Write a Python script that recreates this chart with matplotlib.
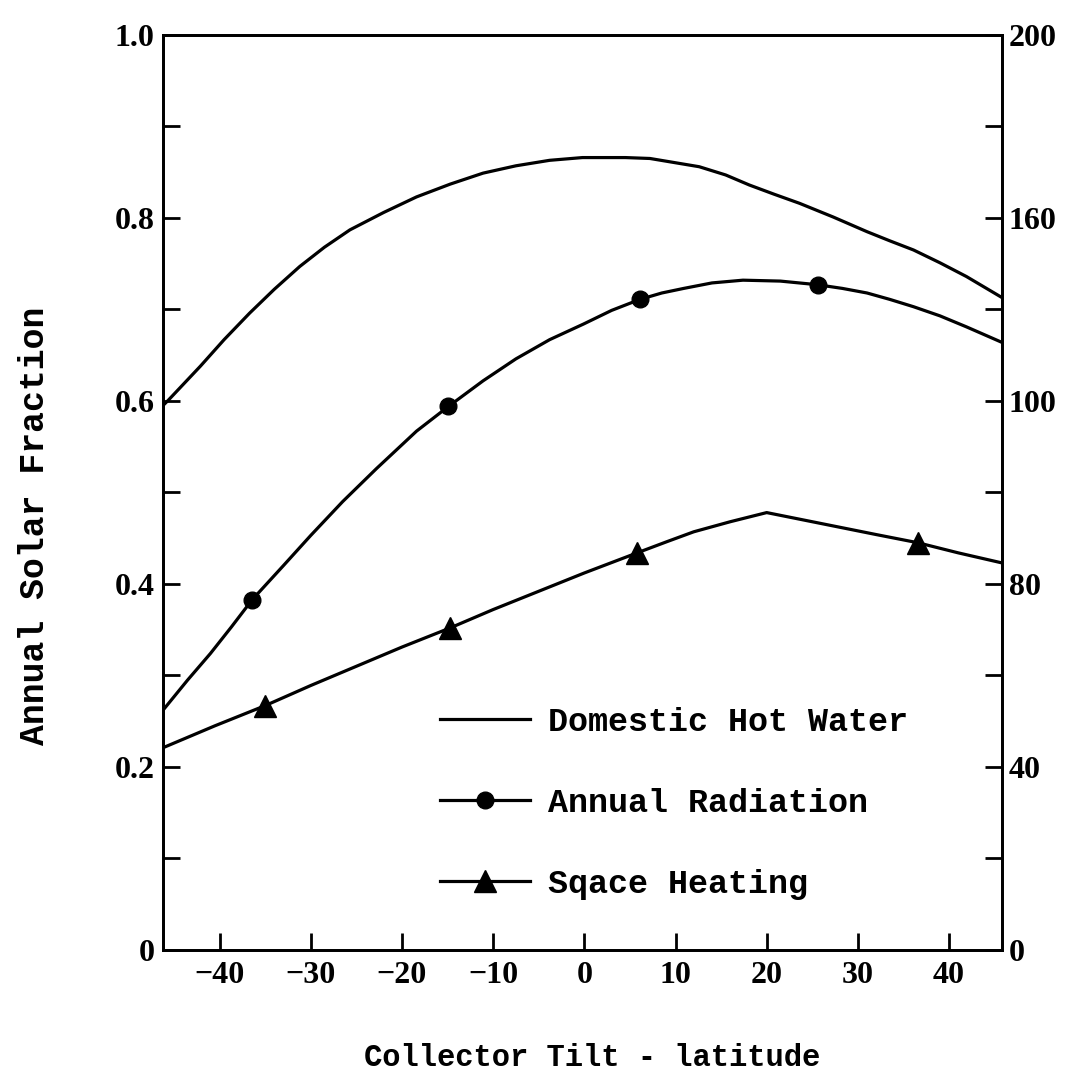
import matplotlib
matplotlib.use("Agg")
import matplotlib.pyplot as plt
from matplotlib.lines import Line2D

# -----------------------------
# DATA
# -----------------------------
dhw_x = [-46.2, -45.6, -42.1, -39.5, -36.7, -34.0, -31.2, -28.5, -25.7, -22.0, -18.4, -14.7, -11.1, -7.5,
         -3.8, -0.2, 1.7, 4.5, 7.2, 9.0, 12.6, 15.5, 18.1, 20.8, 23.6, 27.3, 31.0, 33.5, 36.1, 39.0, 41.9, 45.8]
dhw_y = [0.595, 0.601, 0.638, 0.667, 0.696, 0.722, 0.747, 0.768, 0.787, 0.806, 0.823, 0.837, 0.849, 0.857,
         0.863, 0.866, 0.866, 0.866, 0.865, 0.862, 0.856, 0.847, 0.836, 0.826, 0.816, 0.801, 0.785, 0.775, 0.765, 0.751, 0.736, 0.713]

rad_x = [-46.2, -43.5, -41.0, -38.7, -36.4, -33.0, -30.0, -26.5, -22.8, -18.4, -14.9, -11.1, -7.5, -3.8,
         -0.1, 3.0, 6.1, 8.5, 10.9, 14.0, 17.4, 21.5, 25.6, 28.3, 31.0, 33.5, 36.1, 39.0, 41.9, 45.8]
rad_y = [0.262, 0.295, 0.324, 0.353, 0.383, 0.420, 0.453, 0.490, 0.526, 0.567, 0.594, 0.622, 0.646, 0.667,
         0.684, 0.699, 0.711, 0.718, 0.723, 0.729, 0.732, 0.731, 0.727, 0.723, 0.718, 0.711, 0.703, 0.693, 0.681, 0.664]
rad_mark_x = [-36.4, -14.9, 6.1, 25.6]
rad_mark_y = [0.383, 0.594, 0.711, 0.727]

heat_x = [-46.2, -40.5, -35.0, -30.0, -25.0, -20.0, -14.7, -10.0, -5.0, 0.0, 5.8, 9.0, 12.0, 16.0, 20.0, 24.0, 28.0, 32.0, 36.6, 41.0, 45.8]
heat_y = [0.221, 0.245, 0.267, 0.289, 0.310, 0.331, 0.352, 0.372, 0.392, 0.412, 0.434, 0.446, 0.457, 0.468, 0.478, 0.470, 0.462, 0.454, 0.445, 0.434, 0.423]
heat_mark_x = [-35.0, -14.7, 5.8, 36.6]
heat_mark_y = [0.267, 0.352, 0.434, 0.445]

x_ticks = [-40, -30, -20, -10, 0, 10, 20, 30, 40]
left_ticks = [0, 0.2, 0.4, 0.6, 0.8, 1.0]
left_labels = ["0", "0.2", "0.4", "0.6", "0.8", "1.0"]
right_ticks = [0, 40, 80, 120, 160, 200]
right_labels = ["0", "40", "80", "100", "160", "200"]

labels = ["Domestic Hot Water", "Annual Radiation", "Sqace Heating"]

MONO = "Liberation Mono"
SERIF = "Liberation Serif"

# -----------------------------
# PLOT
# -----------------------------
fig = plt.figure(figsize=(10.91, 10.79), dpi=100)
ax = fig.add_axes([0.1494, 0.1196, 0.7690, 0.8480])
lw = 2.3

ax.plot(dhw_x, dhw_y, color="black", linewidth=lw)
ax.plot(rad_x, rad_y, color="black", linewidth=lw)
ax.plot(rad_mark_x, rad_mark_y, "o", color="black", markersize=12)
ax.plot(heat_x, heat_y, color="black", linewidth=lw)
ax.plot(heat_mark_x, heat_mark_y, "^", color="black", markersize=16)

ax.set_xlim(-46.2, 45.8)
ax.set_ylim(0, 1.0)

for s in ax.spines.values():
    s.set_linewidth(2.0)

tick_font = dict(fontfamily=SERIF, fontweight="bold", fontsize=23)
ax.set_xticks(x_ticks)
ax.set_xticklabels([str(t).replace("-", "\u2212") for t in x_ticks], **tick_font)
ax.set_yticks(left_ticks)
ax.set_yticklabels(left_labels, **tick_font)
ax.set_yticks([0.1, 0.3, 0.5, 0.7, 0.9], minor=True)
ax.tick_params(axis="both", which="major", direction="in", length=12, width=2)
ax.tick_params(axis="x", pad=8)
ax.tick_params(axis="y", pad=6)
ax.tick_params(axis="y", which="minor", direction="in", length=12, width=2)

ax2 = ax.twinx()
ax2.set_ylim(0, 200)
ax2.set_yticks(right_ticks)
ax2.set_yticklabels(right_labels, **tick_font)
ax2.set_yticks([20, 60, 100, 140, 180], minor=True)
ax2.tick_params(axis="y", which="both", direction="in", length=12, width=2, pad=5)
for s in ax2.spines.values():
    s.set_linewidth(2.0)

# axis labels
ax.set_xlabel("Collector Tilt - latitude", fontfamily=MONO, fontweight="bold", fontsize=22, va="center")
ax.xaxis.set_label_coords(0.511, -0.118)
ax.set_ylabel("Annual Solar Fraction", fontfamily=MONO, fontweight="bold", fontsize=25, va="center")
ax.yaxis.set_label_coords(-0.153, 0.464)

# legend inside the plot
handles = [
    Line2D([], [], color="black", linewidth=lw),
    Line2D([], [], color="black", linewidth=lw, marker="o", markersize=12),
    Line2D([], [], color="black", linewidth=lw, marker="^", markersize=16),
]
leg = ax.legend(handles, labels, loc="upper left", bbox_to_anchor=(0.310, 0.284),
                frameon=False, borderpad=0, handlelength=2.7, handletextpad=0.55, labelspacing=1.5,
                prop={"family": MONO, "weight": "bold", "size": 24})

fig.savefig("out.png", dpi=100)
